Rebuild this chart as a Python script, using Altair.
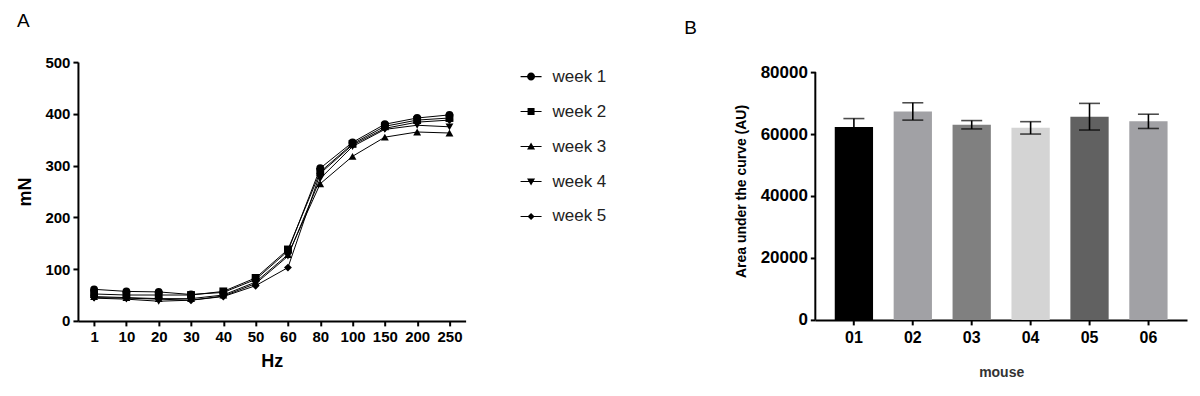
import altair as alt
import pandas as pd

# ---------------- data ----------------
hz = ["1", "10", "20", "30", "40", "50", "60", "80", "100", "150", "200", "250"]
weeks = ["week 1", "week 2", "week 3", "week 4", "week 5"]
week1 = [61, 57, 56, 51, 55, 80, 135, 295, 345, 380, 392, 398]
week2 = [52, 50, 50, 50, 57, 83, 138, 288, 342, 376, 388, 392]
week3 = [47, 45, 43, 43, 50, 75, 128, 265, 318, 355, 365, 363]
week4 = [44, 42, 38, 40, 48, 72, 125, 275, 337, 370, 378, 375]
week5 = [45, 44, 42, 40, 47, 68, 103, 285, 340, 372, 384, 388]

mice = ["01", "02", "03", "04", "05", "06"]
auc_mean = [62300, 67300, 63000, 62000, 65600, 64100]
auc_err = [2700, 2800, 1350, 2000, 4300, 2300]
bar_colors = ["#000000", "#a1a1a5", "#808080", "#d4d4d4", "#616161", "#a1a1a5"]
auc_ticks = [0, 20000, 40000, 60000, 80000]

marker_shapes = ["circle", "square", "triangle-up", "triangle-down", "diamond"]
LINE = "M-2.1,-0.11H2.1V0.11H-2.1Z"
legend_shapes = [
    LINE + "M0.8,0A0.8,0.8,0,1,1,-0.8,0A0.8,0.8,0,1,1,0.8,0Z",
    LINE + "M-0.7,-0.7H0.7V0.7H-0.7Z",
    LINE + "M0,-0.8L0.8,0.6L-0.8,0.6Z",
    LINE + "M0,0.8L-0.8,-0.6L0.8,-0.6Z",
    LINE + "M0,-0.7L0.7,0L0,0.7L-0.7,0Z",
]

rows = []
for w, vals in zip(weeks, [week1, week2, week3, week4, week5]):
    for h, v in zip(hz, vals):
        rows.append({"Hz": h, "mN": v, "week": w})
dfA = pd.DataFrame(rows)

dfB = pd.DataFrame({
    "mouse": mice,
    "auc": auc_mean,
    "lo": [m - e for m, e in zip(auc_mean, auc_err)],
    "hi": [m + e for m, e in zip(auc_mean, auc_err)],
})

FONT = "Liberation Sans"

# ---------------- panel A ----------------
xA = alt.X("Hz:N", sort=hz, scale=alt.Scale(type="point", padding=0.5),
           axis=alt.Axis(title="Hz", labelAngle=0, labelFontSize=15, titleFontSize=18,
                         titlePadding=8, labelPadding=4))
yA = alt.Y("mN:Q", scale=alt.Scale(domain=[0, 500]),
           axis=alt.Axis(title="mN", values=[0, 100, 200, 300, 400, 500], labelFontSize=15,
                         titleFontSize=18, titlePadding=10, labelPadding=3))

baseA = alt.Chart(dfA)
lines = baseA.mark_line(color="black", strokeWidth=1).encode(x=xA, y=yA, detail="week:N")
pts = baseA.mark_point(filled=True, color="black", size=62, opacity=1).encode(
    x=xA, y=yA,
    shape=alt.Shape("week:N", scale=alt.Scale(domain=weeks, range=marker_shapes), legend=None),
)
legpts = baseA.mark_point(filled=True, color="black", opacity=0).encode(
    x=xA, y=yA,
    shape=alt.Shape("week:N", scale=alt.Scale(domain=weeks, range=legend_shapes),
                    legend=alt.Legend(title=None, orient="none", legendX=445, legendY=6,
                                      symbolSize=100, symbolOpacity=1, symbolFillColor="black",
                                      symbolStrokeWidth=0,
                                      labelFont=FONT, labelFontSize=17, labelFontWeight="normal",
                                      labelColor="#222222", labelOffset=13, rowPadding=17)),
)
panelA = alt.layer(lines, pts, legpts).resolve_scale(shape="independent").properties(
    width=388, height=259,
    title=alt.TitleParams("A", anchor="start", offset=24, fontSize=19, font=FONT,
                          fontWeight="normal", color="black"),
)

# ---------------- panel B ----------------
B_PLOT_H = 248
B_TOTAL_H = 258
xB = alt.X("mouse:N", sort=mice, scale=alt.Scale(paddingInner=0.35, paddingOuter=0.33),
           axis=alt.Axis(title="mouse", labelAngle=0, labelFontSize=16, titleFontSize=14,
                         titlePadding=20, labelPadding=5, titleColor="#333333"))
yB = alt.Y("auc:Q", scale=alt.Scale(domain=[0, 80000 * B_TOTAL_H / B_PLOT_H], nice=False),
           axis=alt.Axis(title="Area under the curve (AU)", values=auc_ticks, domain=False,
                         format="d", labelFontSize=17, titleFontSize=14, titlePadding=12,
                         labelPadding=3))

baseB = alt.Chart(dfB)
bars = baseB.mark_bar().encode(
    x=xB, y=yB,
    color=alt.Color("mouse:N", scale=alt.Scale(domain=mice, range=bar_colors), legend=None),
)
err = baseB.mark_rule(color="black", strokeWidth=1.6).encode(x=xB, y="lo:Q", y2="hi:Q")
cap_hi = baseB.mark_tick(color="black", size=21, thickness=1.6).encode(x=xB, y="hi:Q")
cap_lo = baseB.mark_tick(color="black", size=21, thickness=1.6).encode(x=xB, y="lo:Q")
yline = alt.Chart(pd.DataFrame({"lo": [auc_ticks[0]], "hi": [auc_ticks[-1]]})).mark_rule(
    color="black", strokeWidth=2
).encode(x=alt.value(0), y="lo:Q", y2="hi:Q")
panelB = alt.layer(bars, err, cap_hi, cap_lo, yline).properties(
    width=372, height=B_TOTAL_H,
    title=alt.TitleParams("B", anchor="start", offset=24, dx=-50, fontSize=19, font=FONT,
                          fontWeight="normal", color="black"),
)

chart = alt.hconcat(panelA, panelB, spacing=77).properties(
    padding={"left": 8, "top": 4, "right": 5, "bottom": 5}
).configure_view(stroke=None).configure_axis(
    domainColor="black", domainWidth=2, tickColor="black", tickWidth=2, tickSize=5,
    labelColor="black", titleColor="black", labelFont=FONT, titleFont=FONT,
    labelFontWeight="bold", titleFontWeight="bold", grid=False,
)

chart.save("out.html", embed_options={"renderer": "svg", "actions": False})
